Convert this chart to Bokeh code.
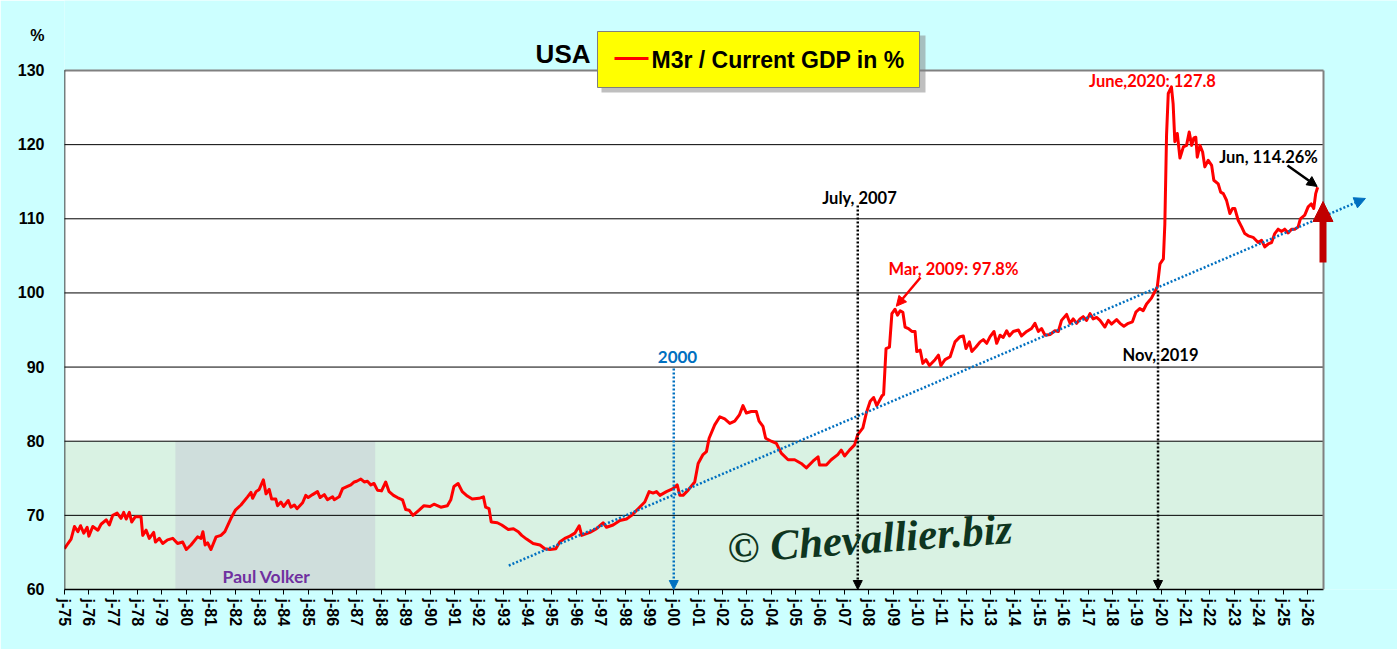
from bokeh.plotting import figure
from bokeh.models import Range1d, FixedTicker, Label, Arrow, NormalHead
from bokeh.embed import file_html
from bokeh.resources import INLINE

# ---------------- data ----------------
years = [
    1975.00, 1975.14, 1975.27, 1975.41, 1975.55, 1975.66, 1975.79, 1975.93,
    1976.00, 1976.16, 1976.37, 1976.50, 1976.71, 1976.84, 1976.98,
    1977.16, 1977.32, 1977.43, 1977.53, 1977.66, 1977.76, 1977.90,
    1978.01, 1978.14, 1978.21, 1978.35, 1978.48, 1978.66, 1978.73, 1978.89,
    1979.03, 1979.23, 1979.44, 1979.64, 1979.85,
    1980.00, 1980.19, 1980.46, 1980.60, 1980.68, 1980.77, 1980.87,
    1981.01, 1981.22, 1981.42, 1981.58, 1981.83,
    1982.01, 1982.24, 1982.51, 1982.65, 1982.72, 1982.86, 1982.99,
    1983.16, 1983.27, 1983.40, 1983.50, 1983.67, 1983.74, 1983.88, 1983.99,
    1984.18, 1984.29, 1984.43, 1984.54, 1984.77, 1984.90,
    1985.00, 1985.18, 1985.38, 1985.49, 1985.66, 1985.79,
    1986.00, 1986.07, 1986.27, 1986.41, 1986.61, 1986.75, 1986.89, 1986.99,
    1987.16, 1987.30, 1987.43, 1987.57, 1987.70, 1987.84,
    1988.01, 1988.18, 1988.32, 1988.50, 1988.66, 1988.87,
    1989.00, 1989.14, 1989.30, 1989.55, 1989.75,
    1990.00, 1990.16, 1990.44, 1990.71, 1990.85, 1990.98,
    1991.15, 1991.32, 1991.53, 1991.73,
    1992.01, 1992.19, 1992.28, 1992.42, 1992.51, 1992.76, 1992.94,
    1993.21, 1993.42, 1993.62, 1993.76, 1993.96,
    1994.23, 1994.51, 1994.71, 1994.92,
    1995.16, 1995.32, 1995.53, 1995.74, 1995.94,
    1996.12, 1996.22, 1996.56, 1996.83,
    1997.10, 1997.24, 1997.51, 1997.79,
    1998.06, 1998.27, 1998.54, 1998.81, 1998.99,
    1999.15, 1999.29, 1999.43, 1999.70, 1999.97,
    2000.14, 2000.25, 2000.38, 2000.59, 2000.86,
    2001.00, 2001.20, 2001.34, 2001.45, 2001.68, 2001.89,
    2002.09, 2002.30, 2002.50, 2002.70, 2002.84, 2002.98,
    2003.18, 2003.39, 2003.50, 2003.66, 2003.77,
    2004.00, 2004.21, 2004.41, 2004.69, 2004.96,
    2005.23, 2005.44, 2005.71, 2005.92, 2005.98,
    2006.26, 2006.46, 2006.73, 2006.87,
    2007.01, 2007.21, 2007.42, 2007.55, 2007.76, 2007.90,
    2008.06, 2008.20, 2008.33, 2008.54, 2008.61, 2008.71, 2008.85, 2008.95,
    2009.08, 2009.18, 2009.29, 2009.40, 2009.49, 2009.63, 2009.77, 2009.90, 2009.97,
    2010.11, 2010.22, 2010.35, 2010.49, 2010.72, 2010.86, 2010.96,
    2011.13, 2011.34, 2011.54, 2011.75, 2011.88, 2011.99,
    2012.13, 2012.23, 2012.40, 2012.57, 2012.70, 2012.84, 2012.98,
    2013.14, 2013.25, 2013.39, 2013.52, 2013.66, 2013.77, 2013.93,
    2014.14, 2014.27, 2014.48, 2014.68, 2014.82, 2014.96,
    2015.09, 2015.23, 2015.44, 2015.64, 2015.78, 2015.91,
    2016.12, 2016.26, 2016.39, 2016.53, 2016.67, 2016.80, 2016.94,
    2017.08, 2017.21, 2017.35, 2017.49, 2017.69, 2017.83, 2017.96,
    2018.17, 2018.31, 2018.47, 2018.65, 2018.82, 2018.96,
    2019.12, 2019.26, 2019.40, 2019.60, 2019.74, 2019.84, 2019.95,
    2020.09, 2020.15, 2020.22, 2020.29, 2020.42, 2020.49, 2020.56, 2020.66, 2020.77, 2020.91,
    2021.04, 2021.15, 2021.25, 2021.34, 2021.42, 2021.48, 2021.59, 2021.70, 2021.79, 2021.93,
    2022.07, 2022.16, 2022.34, 2022.44, 2022.55, 2022.68, 2022.82, 2022.93,
    2023.02, 2023.16, 2023.30, 2023.43, 2023.57, 2023.77, 2023.98,
    2024.12, 2024.25, 2024.39, 2024.53, 2024.66, 2024.80, 2024.94,
    2025.07, 2025.21, 2025.35, 2025.48, 2025.62, 2025.71, 2025.89,
    2026.03, 2026.16, 2026.26, 2026.34, 2026.42,
]
ratio = [
    65.5, 66.2, 66.8, 68.5, 67.8, 68.6, 67.6, 68.4,
    67.2, 68.5, 68.0, 68.8, 69.4, 68.7, 70.0,
    70.3, 69.6, 70.4, 69.5, 70.4, 69.1, 69.8,
    69.8, 69.8, 67.3, 68.0, 66.9, 67.7, 66.4, 66.9,
    66.2, 66.7, 66.9, 66.2, 66.4,
    65.4, 66.0, 67.1, 66.9, 67.8, 66.0, 66.3,
    65.4, 67.1, 67.3, 67.8, 69.6,
    70.7, 71.4, 72.5, 73.1, 72.3, 73.2, 73.5,
    74.8, 72.9, 73.5, 72.2, 72.2, 71.3, 71.8, 71.2,
    72.0, 71.1, 71.4, 70.9, 71.7, 72.7,
    72.4, 72.8, 73.2, 72.4, 72.8, 72.1,
    72.5, 72.1, 72.5, 73.6, 73.9, 74.1, 74.5, 74.6,
    74.9, 74.5, 74.6, 74.1, 74.3, 73.4,
    73.3, 74.5, 73.2, 72.7, 72.4, 72.1,
    70.8, 70.7, 70.0, 70.7, 71.3,
    71.2, 71.5, 71.1, 71.3, 72.1, 73.9,
    74.3, 73.2, 72.6, 72.2,
    72.3, 72.5, 71.1, 70.9, 69.1, 69.0, 68.7,
    68.1, 68.2, 67.8, 67.3, 66.8,
    66.2, 66.0, 65.5, 65.4,
    65.5, 66.4, 66.9, 67.2, 67.6,
    68.6, 67.3, 67.7, 68.2,
    69.0, 68.4, 68.7, 69.3,
    69.5, 70.0, 70.9, 71.8, 73.2,
    73.0, 73.2, 72.7, 73.2, 73.6,
    74.1, 72.7, 72.7, 73.4, 74.5,
    77.0, 78.2, 78.6, 80.4, 82.2, 83.3,
    83.0, 82.4, 82.7, 83.6, 84.8, 83.8,
    84.0, 84.0, 82.7, 82.0, 80.4,
    80.0, 79.7, 78.4, 77.5, 77.5,
    77.0, 76.4, 77.3, 77.9, 76.8,
    76.8, 77.5, 78.2, 78.8,
    78.0, 78.8, 79.5, 80.9, 81.8, 83.8,
    85.4, 85.9, 84.8, 86.1, 86.3, 92.5, 92.7, 97.2,
    97.8, 97.0, 97.6, 97.4, 95.4, 95.2, 94.8, 94.8, 92.1,
    92.3, 90.5, 91.0, 90.2, 91.0, 91.6, 90.2,
    91.0, 91.4, 93.4, 94.1, 94.2, 92.5,
    93.4, 92.1, 92.7, 93.4, 93.7, 93.2, 94.1,
    94.8, 93.2, 94.3, 94.0, 94.9, 94.2, 94.8,
    95.0, 94.2, 94.8, 95.2, 95.9, 94.8,
    95.2, 94.3, 94.4, 94.9, 94.8, 96.3,
    97.1, 95.9, 96.5, 95.9, 96.5, 96.8, 96.3,
    97.2, 96.5, 96.7, 96.3, 95.4, 96.3, 95.8,
    96.4, 95.9, 95.5, 95.9, 96.1, 97.4,
    97.9, 97.6, 98.5, 99.3, 100.2, 100.8, 103.9,
    104.6, 109.3, 121.3, 126.9, 127.8, 125.5, 120.4, 121.5, 118.2, 119.7,
    119.9, 121.7, 119.9, 120.9, 121.0, 118.3, 119.9, 119.0, 117.0, 117.9,
    117.2, 115.2, 114.7, 113.6, 113.4, 112.5, 110.7, 111.4,
    111.4, 109.8, 108.9, 108.0, 107.7, 107.5, 106.8,
    107.1, 106.2, 106.6, 106.8, 108.0, 108.6, 108.3,
    108.6, 108.1, 108.6, 108.6, 108.9, 110.0, 110.5,
    111.6, 112.0, 111.4, 113.4, 114.26,
]

x_tick_years = list(range(1975, 2027))
x_tick_labels = ["j-%02d" % (y % 100) for y in x_tick_years]
y_ticks = [60, 70, 80, 90, 100, 110, 120, 130]
y_unit_tick = 134.7          # where the "%" unit sign sits on the value axis
y_unit_label = "%"

plot_top_value = 130
plot_end_year = 2026.66
green_band = (60, 80)
volker_term = (1979.55, 1987.75)
trend_start = (1993.23, 63.23)
trend_end = (2028.38, 112.74)
peak_2009 = (2009.08, 97.8)
last_point = (2026.42, 114.26)
marker_2000 = 2000.0
marker_2007 = 2007.55
marker_2019 = 2019.87

# ---------------- geometry ----------------
W, H = 1397, 649
BL, BR, BT, BB = 64, 0, 0, 60
FL, FB = BL, H - BB                 # frame left / bottom on the page
PLOT_RIGHT_PX, PLOT_TOP_PX = 1323, 70
X0, Y0 = 1975.0, 60
XS = (plot_end_year - X0) / (PLOT_RIGHT_PX - FL)      # years per pixel
YS = (plot_top_value - Y0) / (FB - PLOT_TOP_PX)       # percent per pixel
X1 = X0 + (W - BR - FL) * XS
Y1 = Y0 + (FB - BT) * YS


def px(xp):
    return X0 + (xp - FL) * XS


def py(yp):
    return Y0 + (FB - yp) * YS


CYAN = "#CCFFFF"
p = figure(width=W, height=H, x_range=Range1d(X0, X1), y_range=Range1d(Y0, Y1),
           output_backend="svg", toolbar_location=None,
           background_fill_color=CYAN, border_fill_color=CYAN,
           min_border_left=BL, min_border_right=BR, min_border_top=BT, min_border_bottom=BB)
p.outline_line_color = None

# axes
AX_FONT = "Liberation Sans"
p.xaxis.ticker = FixedTicker(ticks=x_tick_years)
p.xaxis.major_label_overrides = {y: l for y, l in zip(x_tick_years, x_tick_labels)}
p.xaxis.major_label_orientation = "vertical"
p.xaxis.bounds = (X0, plot_end_year)
p.yaxis.ticker = FixedTicker(ticks=y_ticks + [y_unit_tick])
p.yaxis.major_label_overrides = {y_unit_tick: y_unit_label}
for ax in (p.xaxis, p.yaxis):
    ax.major_label_text_font = AX_FONT
    ax.major_label_text_font_style = "bold"
    ax.major_label_text_font_size = "16px"
    ax.major_label_text_color = "black"
    ax.axis_line_color = "black"
    ax.axis_line_width = 1.5
    ax.major_tick_line_color = "black"
    ax.major_tick_out = 5
    ax.major_tick_in = 0
    ax.minor_tick_line_color = None
p.yaxis.axis_line_color = None
p.yaxis.major_tick_line_color = None
p.xaxis.major_label_standoff = 4
p.yaxis.major_label_standoff = 15
p.grid.visible = False

# plot area background, bands and horizontal grid lines
p.quad(left=[X0], right=[plot_end_year], bottom=[Y0], top=[plot_top_value],
       fill_color="white", line_color=None, level="image")
p.quad(left=[X0], right=[plot_end_year], bottom=[green_band[0]], top=[green_band[1]],
       fill_color="#D9F2E3", line_color=None, level="image")
p.quad(left=[volker_term[0]], right=[volker_term[1]], bottom=[green_band[0]], top=[green_band[1]],
       fill_color="#CFDEDC", line_color=None, level="image")
grid_vals = [t for t in y_ticks if Y0 < t < plot_top_value]
p.segment(x0=[X0] * len(grid_vals), y0=grid_vals, x1=[plot_end_year] * len(grid_vals), y1=grid_vals,
          line_color="black", line_width=1, level="underlay")


def seg(x0, y0, x1, y1, color, width, dash="solid"):
    p.add_layout(Arrow(x_start=x0, y_start=y0, x_end=x1, y_end=y1, start=None, end=None,
                       line_color=color, line_width=width, line_dash=dash))


# plot-area border (grey top/right) and black value axis with its ticks
seg(X0, plot_top_value, plot_end_year, plot_top_value, "#808080", 2)
seg(plot_end_year, Y0, plot_end_year, plot_top_value, "#808080", 2)
seg(X0, Y0, X0, plot_top_value, "black", 1.5)
for t in y_ticks:
    seg(px(FL - 5), t, X0, t, "black", 1)

# main series
p.line(years, ratio, line_color="#FF0000", line_width=3, line_join="round")

# trend line
p.add_layout(Arrow(x_start=trend_start[0], y_start=trend_start[1],
                   x_end=trend_end[0], y_end=trend_end[1],
                   line_color="#0070C0", line_width=2.5, line_dash="2 2",
                   end=NormalHead(size=11, fill_color="#0070C0", line_color="#0070C0")))


# vertical dotted markers
def vmarker(x, ytop, color):
    p.add_layout(Arrow(x_start=x, y_start=ytop, x_end=x, y_end=Y0,
                       line_color=color, line_width=2.5, line_dash="2 2",
                       end=NormalHead(size=9, fill_color=color, line_color=color)))


vmarker(marker_2000, py(368), "#0070C0")
vmarker(marker_2007, py(205), "black")
vmarker(marker_2019, py(290), "black")

ANN_FONT = "Lato"


def label(xp, yp, text, color, size, align="center", style="bold", font=ANN_FONT, **kw):
    p.add_layout(Label(x=px(xp), y=py(yp), text=text, text_color=color, text_font=font,
                       text_font_style=style, text_font_size=size,
                       text_align=align, text_baseline="middle", **kw))


label(677, 356, "2000", "#0070C0", "17px")
label(859, 197, "July, 2007", "black", "16.5px")
label(953, 268, "Mar, 2009: 97.8%", "#FF0000", "16.5px")
label(1160, 354, "Nov, 2019", "black", "16.5px")
label(1152, 80, "June,2020: 127.8", "#FF0000", "16.5px")
label(1268, 156, "Jun, 114.26%", "black", "16.5px")
label(266, 576, "Paul Volker", "#7030A0", "17.5px")

# pointer arrows
p.add_layout(Arrow(x_start=px(920), y_start=py(277), x_end=peak_2009[0] + 0.05, y_end=peak_2009[1] + 0.4,
                   line_color="#FF0000", line_width=2.5,
                   end=NormalHead(size=10, fill_color="#FF0000", line_color="#FF0000")))
p.add_layout(Arrow(x_start=px(1287), y_start=py(165), x_end=last_point[0] - 0.02, y_end=last_point[1] + 0.1,
                   line_color="black", line_width=2.5,
                   end=NormalHead(size=10, fill_color="black", line_color="black")))
# big dark red up arrow
p.add_layout(Arrow(x_start=px(1322.5), y_start=py(262), x_end=px(1322.5), y_end=py(201),
                   line_color="#C00000", line_width=7,
                   end=NormalHead(size=20, fill_color="#C00000", line_color="#C00000")))

# watermark
label(727, 548, "\u00a9 Chevallier.biz", "#0E3520", "43px", align="left",
      style="bold italic", font="Liberation Serif", angle=0.07)

# title
label(590, 53, "USA", "black", "26px", align="right", font=AX_FONT)

# legend box with shadow
p.quad(left=[px(601)], right=[px(925)], bottom=[py(92)], top=[py(35)],
       fill_color="#7F7F7F", fill_alpha=0.5, line_color=None)
p.add_layout(Label(x=px(597), y=py(59), text="M3r / Current GDP in %",
                   text_font=AX_FONT, text_font_style="bold", text_font_size="23px",
                   text_align="left", text_baseline="middle", text_color="black",
                   background_fill_color="#FFFF00", border_line_color="#7F7F7F",
                   border_line_width=1,
                   padding=dict(left=54, right=15, top=15, bottom=15)))
seg(px(614), py(58), px(648), py(58), "#FF0000", 3)

open("out.html", "w").write(file_html(p, INLINE))
